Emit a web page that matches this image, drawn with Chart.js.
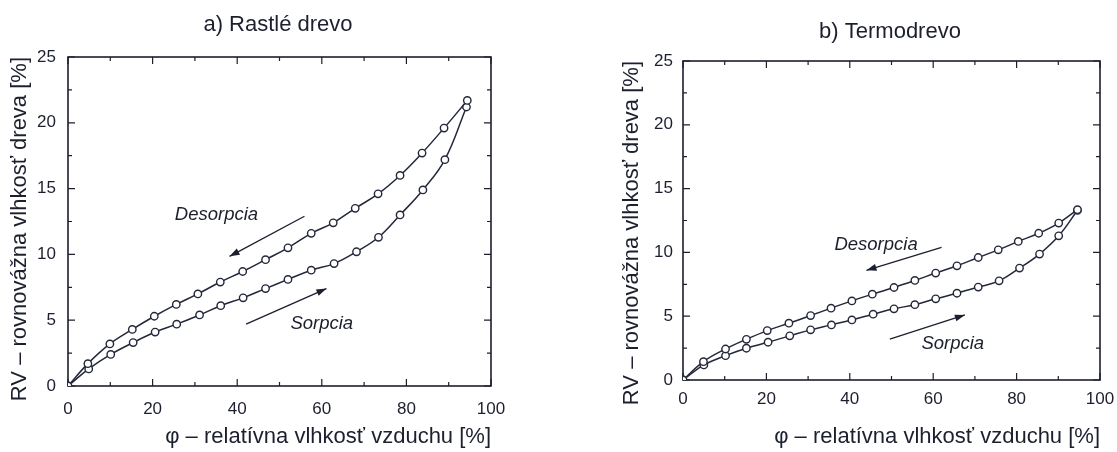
<!DOCTYPE html>
<html>
<head>
<meta charset="utf-8">
<script src="https://cdn.jsdelivr.net/npm/chart.js@4.4.1/dist/chart.umd.min.js"></script>
<style>
  html, body { margin: 0; background: #fff; overflow: hidden; width: 1117px; height: 452px; }
  canvas { position: absolute; top: 0; }
  #chartA { left: 0; }
  #chartB { left: 560px; }
</style>
</head>
<body>
<canvas id="chartA" width="556" height="452"></canvas>
<canvas id="chartB" width="660" height="452"></canvas>
<script>
// a) Rastlé drevo - desorpcia (horna krivka) a sorpcia (dolna)
const desA_x = [0, 4.7, 9.9, 15.2, 20.4, 25.6, 30.7, 36.0, 41.3, 46.7, 52.0, 57.5, 62.7, 67.9, 73.3, 78.5, 83.7, 88.9, 94.4];
const desA_y = [0, 1.7, 3.2, 4.3, 5.3, 6.2, 7.0, 7.9, 8.7, 9.6, 10.5, 11.6, 12.4, 13.5, 14.6, 16.0, 17.7, 19.6, 21.7];
const sorA_x = [0, 4.9, 10.1, 15.4, 20.6, 25.7, 31.1, 36.1, 41.4, 46.7, 52.0, 57.5, 62.9, 68.2, 73.4, 78.5, 83.9, 89.1, 94.2];
const sorA_y = [0, 1.3, 2.4, 3.3, 4.1, 4.7, 5.4, 6.1, 6.7, 7.4, 8.1, 8.8, 9.3, 10.2, 11.3, 13.0, 14.9, 17.2, 21.2];

// b) Termodrevo
const desB_x = [0, 4.9, 10.2, 15.2, 20.2, 25.4, 30.6, 35.5, 40.5, 45.4, 50.6, 55.6, 60.6, 65.7, 70.8, 75.6, 80.4, 85.3, 90.1, 94.6];
const desB_y = [0, 1.44, 2.43, 3.19, 3.87, 4.45, 5.05, 5.63, 6.2, 6.73, 7.25, 7.8, 8.38, 8.95, 9.6, 10.2, 10.86, 11.5, 12.3, 13.35];
const sorB_x = [0, 5.0, 10.2, 15.2, 20.4, 25.6, 30.6, 35.6, 40.5, 45.6, 50.6, 55.6, 60.6, 65.7, 70.8, 75.8, 80.7, 85.5, 90.1, 94.6];
const sorB_y = [0, 1.18, 1.91, 2.49, 2.96, 3.46, 3.93, 4.32, 4.71, 5.16, 5.58, 5.9, 6.36, 6.8, 7.28, 7.77, 8.77, 9.87, 11.3, 13.3];

// osi
const xMin = 0, xMax = 100, xStep = 20;
const yMin = 0, yMax = 25, yStep = 5;

const titleA = 'a) Rastlé drevo';
const titleB = 'b) Termodrevo';
const xTitle = 'φ – relatívna vlhkosť vzduchu [%]';
const yTitle = 'RV – rovnovážna vlhkosť dreva [%]';

const ink = '#1c1f2e';
const lineInk = '#23273a';
const family = "'Liberation Sans', Arial, sans-serif";

const pts = (xs, ys) => xs.map((v, i) => ({ x: v, y: ys[i] }));

function arrow(ctx, x1, y1, x2, y2) {
  const a = Math.atan2(y2 - y1, x2 - x1);
  ctx.beginPath();
  ctx.moveTo(x1, y1);
  ctx.lineTo(x2, y2);
  ctx.stroke();
  ctx.beginPath();
  ctx.moveTo(x2, y2);
  ctx.lineTo(x2 - 10 * Math.cos(a) + 3.5 * Math.sin(a), y2 - 10 * Math.sin(a) - 3.5 * Math.cos(a));
  ctx.lineTo(x2 - 10 * Math.cos(a) - 3.5 * Math.sin(a), y2 - 10 * Math.sin(a) + 3.5 * Math.cos(a));
  ctx.closePath();
  ctx.fill();
}

// ramik s vnutornymi ciarkami + popisky so sipkami
const frame = {
  id: 'frame',
  beforeDatasetsDraw(chart) {
    const { ctx, chartArea: c, scales } = chart;
    const x = scales.x, y = scales.y;
    ctx.save();
    ctx.strokeStyle = ink;
    ctx.lineWidth = 1.6;
    ctx.strokeRect(c.left, c.top, c.width, c.height);
    ctx.lineWidth = 1.2;
    ctx.beginPath();
    for (let v = xMin; v <= xMax; v += xStep / 2) {
      const px = x.getPixelForValue(v);
      const len = v % xStep === 0 ? 7 : 4;
      ctx.moveTo(px, c.bottom); ctx.lineTo(px, c.bottom - len);
      ctx.moveTo(px, c.top); ctx.lineTo(px, c.top + len);
    }
    for (let v = yMin; v <= yMax; v += yStep / 2) {
      const py = y.getPixelForValue(v);
      const len = v % yStep === 0 ? 7 : 4;
      ctx.moveTo(c.left, py); ctx.lineTo(c.left + len, py);
      ctx.moveTo(c.right, py); ctx.lineTo(c.right - len, py);
    }
    ctx.stroke();
    ctx.restore();
  },
  afterDatasetsDraw(chart, args, opts) {
    const { ctx, scales } = chart;
    const x = scales.x, y = scales.y;
    ctx.save();
    ctx.fillStyle = ink;
    ctx.strokeStyle = ink;
    ctx.lineWidth = 1.3;
    ctx.font = 'italic 18.5px ' + family;
    ctx.textAlign = 'center';
    ctx.textBaseline = 'middle';
    (opts.notes || []).forEach(n => {
      ctx.fillText(n.text, x.getPixelForValue(n.x), y.getPixelForValue(n.y));
    });
    (opts.arrows || []).forEach(a => {
      arrow(ctx, x.getPixelForValue(a[0]), y.getPixelForValue(a[1]),
                 x.getPixelForValue(a[2]), y.getPixelForValue(a[3]));
    });
    ctx.restore();
  }
};

function makeChart(id, title, des, sor, L) {
  const series = (data) => ({
    data: data,
    showLine: true,
    tension: 0.4,
    borderColor: lineInk,
    borderWidth: 1.5,
    pointRadius: 3.7,
    pointBorderWidth: 1.4,
    pointBorderColor: lineInk,
    pointBackgroundColor: '#fff',
    xAxisID: 'x',
    yAxisID: 'y'
  });
  return new Chart(document.getElementById(id), {
    type: 'scatter',
    data: { datasets: [series(des), series(sor)] },
    plugins: [frame],
    options: {
      responsive: false,
      animation: false,
      devicePixelRatio: 1,
      layout: { padding: 0 },
      plugins: {
        legend: { display: false },
        tooltip: { enabled: false },
        title: {
          display: true,
          text: title,
          color: ink,
          font: { family: family, size: 22, weight: 'normal' },
          padding: { top: L.titleTop, bottom: L.titleBottom }
        },
        frame: { notes: L.notes, arrows: L.arrows }
      },
      scales: {
        x: {
          type: 'linear',
          min: xMin, max: xMax,
          border: { display: false },
          grid: { display: false, drawTicks: false },
          ticks: { stepSize: xStep, color: ink, padding: L.xPad, font: { family: family, size: 17 } },
          title: { display: true, align: 'end', text: xTitle, color: ink, font: { family: family, size: 22 }, padding: { top: 0, bottom: 2 } },
          afterFit: s => { s.height = L.xH; }
        },
        y: {
          type: 'linear',
          position: 'left',
          min: yMin, max: yMax,
          border: { display: false },
          grid: { display: false, drawTicks: false },
          ticks: { stepSize: yStep, color: ink, padding: L.yPad, font: { family: family, size: 17 } },
          title: { display: true, align: 'end', text: yTitle, color: ink, font: { family: family, size: 22 }, padding: { top: L.yTitlePad, bottom: 0 } },
          afterFit: s => { s.width = L.yW; }
        },
        y2: {
          type: 'linear',
          position: 'right',
          min: yMin, max: yMax,
          border: { display: false },
          grid: { display: false, drawTicks: false },
          ticks: { display: false },
          afterFit: s => { s.width = L.y2W; }
        }
      }
    }
  });
}

makeChart('chartA', titleA, pts(desA_x, desA_y), pts(sorA_x, sorA_y), {
  titleTop: 12, titleBottom: 18.6, xH: 66, yW: 68, y2W: 65, xPad: 13, yPad: 12, yTitlePad: 7,
  notes: [{ text: 'Desorpcia', x: 35.1, y: 13.0 }, { text: 'Sorpcia', x: 60, y: 4.7 }],
  arrows: [[55.9, 12.9, 38.2, 9.85], [42.1, 4.7, 61.1, 7.4]]
});

makeChart('chartB', titleB, pts(desB_x, desB_y), pts(sorB_x, sorB_y), {
  titleTop: 19, titleBottom: 15.6, xH: 72, yW: 123, y2W: 120, xPad: 9, yPad: 10, yTitlePad: 59,
  notes: [{ text: 'Desorpcia', x: 46.3, y: 10.6 }, { text: 'Sorpcia', x: 64.7, y: 2.8 }],
  arrows: [[62, 10.4, 44, 8.6], [49.6, 3.2, 67.6, 5.1]]
});
</script>
</body>
</html>
